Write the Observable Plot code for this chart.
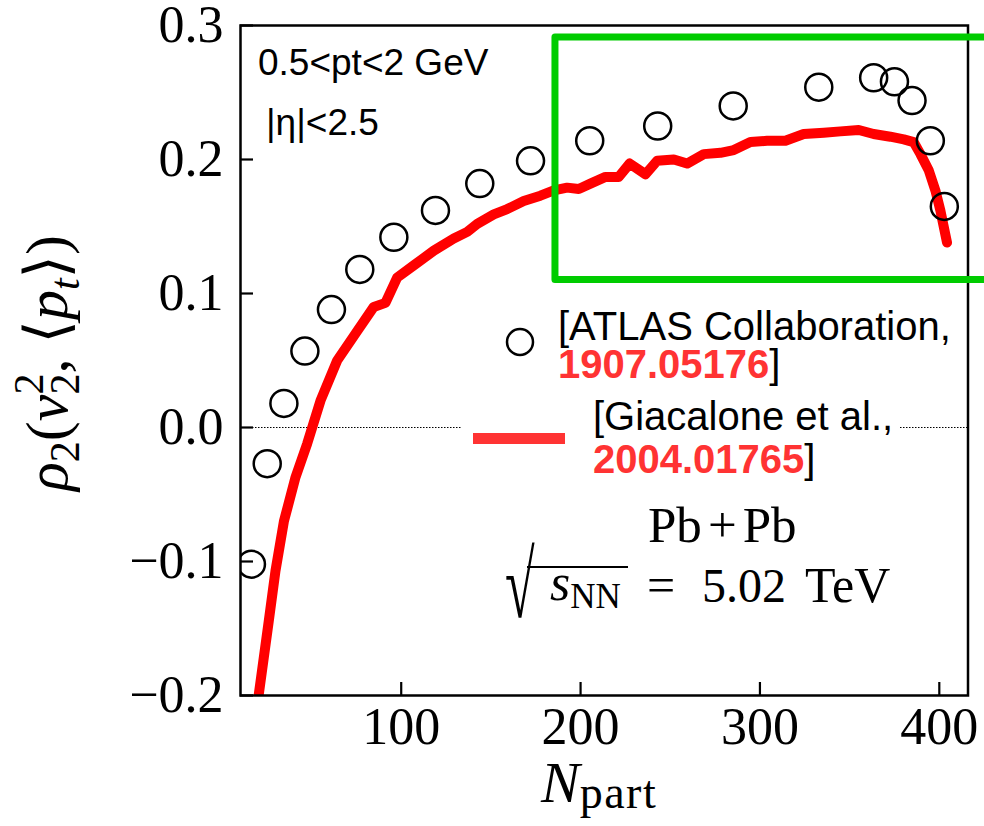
<!DOCTYPE html>
<html>
<head>
<meta charset="utf-8">
<script src="https://cdn.jsdelivr.net/npm/d3@7"></script>
<script src="https://cdn.jsdelivr.net/npm/@observablehq/plot@0.6"></script>
<style>
  body { margin: 0; background: #fff; }
  #chart { position: relative; width: 984px; height: 826px; overflow: hidden; background: #fff; }
  #chart > svg { position: absolute; left: 0; top: 0; }
</style>
</head>
<body>
<div id="chart"></div>
<script>
// ATLAS measurement of rho_2(v_2^2, <p_t>) versus N_part (open circles)
const atlasNpart = [16.5, 25.3, 34.6, 46.3, 61.1, 76.9, 95.9, 119.1, 143.8, 172.1,
                    205.1, 243.0, 285.1, 332.8, 363.4, 375.0, 384.8, 395.0, 402.8];
const atlasRho   = [-0.102, -0.027, 0.018, 0.057, 0.088, 0.118, 0.142, 0.162, 0.182, 0.199,
                    0.214, 0.225, 0.240, 0.254, 0.261, 0.258, 0.244, 0.214, 0.165];

// Hydrodynamic prediction (red curve)
const modelNpart = [20.0, 26.2, 29.9, 34.6, 41.1, 47.6, 55.0, 64.3, 75.5, 84.7,
                    91.2, 97.8, 107.0, 118.2, 129.3, 136.8, 142.4, 151.6, 159.1, 168.3,
                    177.6, 185.1, 192.5, 199.0, 205.5, 213.9, 221.3, 227.4, 236.2, 242.7,
                    252.0, 259.4, 268.7, 278.0, 285.4, 294.7, 304.0, 314.2, 324.4, 335.6,
                    344.9, 355.1, 363.4, 372.7, 380.2, 385.7, 389.5, 394.1, 397.8, 400.6, 404.3];
const modelRho   = [-0.205, -0.144, -0.107, -0.070, -0.037, -0.012, 0.020, 0.050, 0.072, 0.090,
                    0.093, 0.112, 0.121, 0.132, 0.141, 0.146, 0.152, 0.159, 0.163, 0.169,
                    0.173, 0.177, 0.179, 0.178, 0.182, 0.187, 0.187, 0.197, 0.189, 0.199,
                    0.200, 0.197, 0.204, 0.205, 0.207, 0.213, 0.214, 0.214, 0.219, 0.220,
                    0.221, 0.222, 0.219, 0.217, 0.215, 0.213, 0.204, 0.192, 0.177, 0.162, 0.138];

// Axis ticks
const xTicks = [100, 200, 300, 400];
const yTicks = [-0.2, -0.1, 0.0, 0.1, 0.2, 0.3];

// Highlighted central region
const highlightNpart = [186, 428];
const highlightRho = [0.110, 0.291];

const atlas = atlasNpart.map((n, i) => ({npart: n, rho: atlasRho[i]}));
const model = modelNpart.map((n, i) => ({npart: n, rho: modelRho[i]}));
const highlight = [{x1: highlightNpart[0], x2: highlightNpart[1], y1: highlightRho[0], y2: highlightRho[1]}];

const serif = "'Liberation Serif', 'DejaVu Serif', serif";
const sans = "'Liberation Sans', Arial, sans-serif";

const W = 984, H = 826, tickLen = 13;

const chart = Plot.plot({
  width: W,
  height: H,
  marginLeft: 240,
  marginRight: 16.5,
  marginTop: 25,
  marginBottom: 131,
  style: {fontFamily: serif, fontSize: "52px", color: "black", background: "white", overflow: "visible"},
  x: {domain: [10.4, 416]},
  y: {domain: [-0.2, 0.3]},
  marks: [
    Plot.ruleY([0], {stroke: "#000", strokeWidth: 1.2, strokeDasharray: "1.5,1.5"}),
    Plot.line(model, {x: "npart", y: "rho", stroke: "#ff0000", strokeWidth: 10, strokeLinejoin: "round", clip: true}),
    Plot.dot(atlas, {x: "npart", y: "rho", r: 13.5, stroke: "black", strokeWidth: 2.5, fill: "none", clip: true}),
    Plot.frame({stroke: "black", strokeWidth: 2.5}),
    // axes shifted by the tick length so that the ticks point into the frame
    Plot.axisX({ticks: xTicks, tickSize: tickLen, dy: -tickLen, tickPadding: 12, strokeWidth: 2.2, label: null}),
    Plot.axisY({ticks: yTicks, tickSize: tickLen, dx: tickLen, tickPadding: 17, strokeWidth: 2.2, label: null,
                tickFormat: d3.format(".1f")}),
    Plot.rect(highlight, {x1: "x1", x2: "x2", y1: "y1", y2: "y2", fill: "none", stroke: "#00cc00", strokeWidth: 7, strokeLinejoin: "round"})
  ]
});
document.getElementById("chart").appendChild(chart);

// Annotations, legend and axis titles
const ov = d3.select("#chart").append("svg")
  .attr("width", W).attr("height", H)
  .style("pointer-events", "none");

ov.append("text").attr("x", 258).attr("y", 75)
  .style("font", `37px ${sans}`).text("0.5<pt<2 GeV");
ov.append("text").attr("x", 266).attr("y", 135)
  .style("font", `37px ${sans}`).text("|η|<2.5");

// legend
ov.append("rect").attr("x", 462).attr("y", 398).attr("width", 438).attr("height", 88).attr("fill", "white");
ov.append("circle").attr("cx", 520).attr("cy", 342).attr("r", 13)
  .attr("fill", "none").attr("stroke", "black").attr("stroke-width", 2.5);
ov.append("line").attr("x1", 473).attr("x2", 565).attr("y1", 438.5).attr("y2", 438.5)
  .attr("stroke", "#ff3333").attr("stroke-width", 11);

ov.append("text").attr("x", 558).attr("y", 340).style("font", `40px ${sans}`).text("[ATLAS Collaboration,");
const l1 = ov.append("text").attr("x", 558).attr("y", 378).style("font", `40px ${sans}`);
l1.append("tspan").attr("fill", "#ff3333").attr("font-weight", "bold").text("1907.05176");
l1.append("tspan").text("]");

ov.append("text").attr("x", 593).attr("y", 430).style("font", `40px ${sans}`).text("[Giacalone et al.,");
const l2 = ov.append("text").attr("x", 593).attr("y", 473).style("font", `40px ${sans}`);
l2.append("tspan").attr("fill", "#ff3333").attr("font-weight", "bold").text("2004.01765");
l2.append("tspan").text("]");

// collision system
const pb = ov.append("text").attr("x", 648).attr("y", 542).style("font", `51px ${serif}`);
pb.append("tspan").text("Pb");
pb.append("tspan").attr("dx", 6).text("+");
pb.append("tspan").attr("dx", 6).text("Pb");

ov.append("text").attr("transform", "translate(505,617) scale(1,1.75)")
  .style("font", `54px ${serif}`).text("√");
ov.append("line").attr("x1", 527).attr("x2", 628).attr("y1", 567).attr("y2", 567)
  .attr("stroke", "black").attr("stroke-width", 2.2);
const sq = ov.append("text").attr("x", 550).attr("y", 600).style("font", `52px ${serif}`);
sq.append("tspan").attr("font-style", "italic").text("s");
sq.append("tspan").attr("font-size", "35px").attr("dy", 8).text("NN");
ov.append("text").attr("x", 647).attr("y", 602).style("font", `50px ${serif}`).text("=");
ov.append("text").attr("x", 702).attr("y", 602).style("font", `48px ${serif}`).text("5.02");
ov.append("text").attr("x", 805).attr("y", 602).style("font", `50px ${serif}`).text("TeV");

// x axis title
const xl = ov.append("text").attr("x", 541).attr("y", 802).style("font", `58px ${serif}`);
xl.append("tspan").attr("font-style", "italic").text("N");
xl.append("tspan").attr("font-size", "46px").attr("letter-spacing", "1.5px").attr("dy", 6).text("part");

// y axis title
const yl = ov.append("text")
  .attr("transform", "translate(67,363) rotate(-90)")
  .attr("text-anchor", "middle")
  .style("font", `60px ${serif}`);
yl.append("tspan").attr("font-style", "italic").text("ρ");
yl.append("tspan").attr("font-size", "42px").attr("dy", 12).text("2");
yl.append("tspan").attr("dy", -12).text("(");
yl.append("tspan").attr("font-style", "italic").text("v");
yl.append("tspan").attr("font-size", "42px").attr("dy", -24).text("2");
yl.append("tspan").attr("font-size", "42px").attr("dx", -21).attr("dy", 36).text("2");
yl.append("tspan").attr("dy", -12).text(", ⟨");
yl.append("tspan").attr("font-style", "italic").text("p");
yl.append("tspan").attr("font-style", "italic").attr("font-size", "42px").attr("dy", 12).text("t");
yl.append("tspan").attr("dy", -12).text("⟩)");
</script>
</body>
</html>
